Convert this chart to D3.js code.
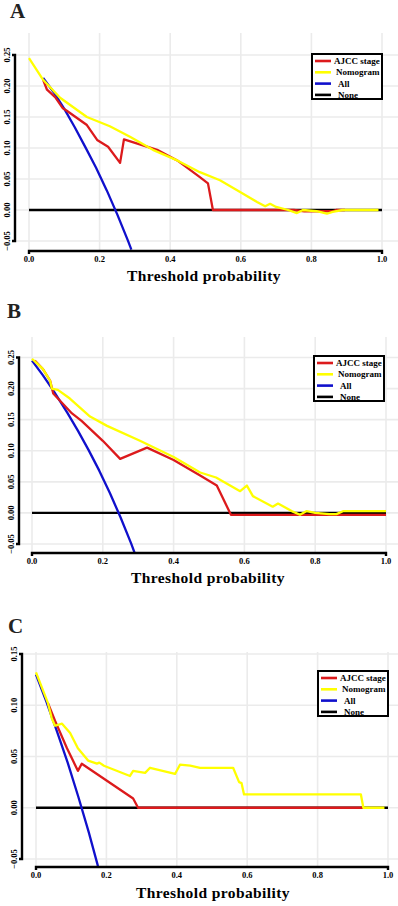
<!DOCTYPE html>
<html>
<head>
<meta charset="utf-8">
<script src="https://cdn.jsdelivr.net/npm/d3@7"></script>
<style>
  body { margin: 0; background: #fff; }
  svg { display: block; }
  text { font-family: "Liberation Serif", "Times New Roman", serif; font-weight: bold; }
</style>
</head>
<body>
<div id="chart"></div>
<script>
// decision curves, values: [threshold, net benefit]
var seriesNames = ["AJCC stage", "Nomogram", "All", "None"];
var xTicks = [0, 0.2, 0.4, 0.6, 0.8, 1.0];
var yTicksAB = [-0.05, 0, 0.05, 0.10, 0.15, 0.20, 0.25];
var yTicksC = [-0.05, 0, 0.05, 0.10, 0.15];

var ajccA = [[0.04,0.210],[0.051,0.194],[0.074,0.182],[0.096,0.164],[0.107,0.160],[0.164,0.137],[0.193,0.113],[0.224,0.102],[0.258,0.076],[0.269,0.114],[0.363,0.097],[0.42,0.080],[0.484,0.053],[0.507,0.043],[0.521,0],[0.75,0],[0.78,-0.002],[0.86,-0.002],[0.87,0],[0.895,0]];
var nomoA = [[0,0.245],[0.04,0.210],[0.088,0.181],[0.164,0.150],[0.229,0.135],[0.286,0.118],[0.351,0.097],[0.42,0.080],[0.484,0.061],[0.541,0.048],[0.598,0.029],[0.646,0.013],[0.669,0.006],[0.683,0.010],[0.70,0.005],[0.734,0],[0.759,-0.005],[0.776,0],[0.815,-0.002],[0.844,-0.006],[0.86,-0.003],[0.888,0],[0.99,0]];
var allA = [[0.04,0.213],[0.07,0.190],[0.10,0.163],[0.13,0.133],[0.16,0.101],[0.19,0.068],[0.22,0.032],[0.25,-0.007],[0.28,-0.049],[0.29,-0.064]];
var noneA = [[0,0],[1,0]];

var ajccB = [[0.008,0.245],[0.03,0.232],[0.051,0.213],[0.06,0.192],[0.113,0.160],[0.14,0.148],[0.20,0.116],[0.249,0.087],[0.325,0.105],[0.40,0.085],[0.475,0.060],[0.522,0.044],[0.562,-0.003],[1.0,-0.003]];
var nomoB = [[0,0.248],[0.03,0.232],[0.051,0.213],[0.056,0.200],[0.073,0.198],[0.107,0.184],[0.164,0.155],[0.212,0.140],[0.305,0.116],[0.40,0.090],[0.475,0.065],[0.52,0.057],[0.588,0.035],[0.607,0.044],[0.624,0.027],[0.68,0.010],[0.695,0.015],[0.737,0.002],[0.757,-0.003],[0.776,0.003],[0.80,0],[0.84,-0.002],[0.86,-0.002],[0.88,0.003],[1.0,0.003]];
var allB = [[0,0.245],[0.03,0.222],[0.06,0.197],[0.10,0.161],[0.13,0.132],[0.16,0.101],[0.19,0.068],[0.22,0.032],[0.25,-0.007],[0.28,-0.049],[0.291,-0.066]];
var noneB = [[0,0],[1,0]];

var ajccC = [[0.034,0.102],[0.054,0.085],[0.088,0.058],[0.105,0.046],[0.119,0.036],[0.13,0.043],[0.276,0.009],[0.29,0],[0.93,0]];
var nomoC = [[0,0.132],[0.034,0.102],[0.045,0.087],[0.054,0.080],[0.074,0.082],[0.097,0.073],[0.119,0.058],[0.148,0.046],[0.173,0.043],[0.18,0.044],[0.193,0.041],[0.267,0.031],[0.276,0.036],[0.31,0.034],[0.324,0.039],[0.395,0.033],[0.409,0.042],[0.438,0.041],[0.466,0.039],[0.56,0.039],[0.577,0.025],[0.584,0.024],[0.591,0.013],[0.923,0.013],[0.93,0],[0.99,0]];
var allC = [[0,0.130],[0.03,0.103],[0.06,0.074],[0.09,0.044],[0.12,0.011],[0.15,-0.024],[0.176,-0.057]];
var noneC = [[0,0],[1,0]];

var colors = { "AJCC stage": "#dc1a1c", "Nomogram": "#ffff00", "All": "#1010cc", "None": "#000000" };

var panels = [
  { label: "A", lx: 10, ly: 18, xr: [29, 382], yd: [-0.05, 0.25], yr: [241, 55], yTicks: yTicksAB,
    top: 33, axisX: 15, axisY: 251, legend: [312, 54], titleX: 204, titleY: 281,
    data: { "AJCC stage": ajccA, "Nomogram": nomoA, "All": allA, "None": noneA } },
  { label: "B", lx: 7, ly: 318, xr: [32, 386], yd: [-0.05, 0.25], yr: [544, 357.5], yTicks: yTicksAB,
    top: 337, axisX: 19, axisY: 553, legend: [314, 356], titleX: 208, titleY: 583,
    data: { "AJCC stage": ajccB, "Nomogram": nomoB, "All": allB, "None": noneB } },
  { label: "C", lx: 8, ly: 633, xr: [36, 388], yd: [-0.05, 0.15], yr: [859, 654], yTicks: yTicksC,
    top: 652, axisX: 22, axisY: 867, legend: [318, 671], titleX: 213, titleY: 898,
    data: { "AJCC stage": ajccC, "Nomogram": nomoC, "All": allC, "None": noneC } }
];

var width = 398, height = 906;
var svg = d3.select("#chart").append("svg")
  .attr("width", width).attr("height", height);

var drawOrder = ["None", "All", "AJCC stage", "Nomogram"];

panels.forEach(function(p, i) {
  var x = d3.scaleLinear().domain([0, 1]).range(p.xr);
  var y = d3.scaleLinear().domain(p.yd).range(p.yr);
  var g = svg.append("g");

  // grid
  g.selectAll(".hgrid").data(p.yTicks).enter().append("line")
    .attr("x1", p.axisX).attr("x2", width)
    .attr("y1", function(d) { return y(d) }).attr("y2", function(d) { return y(d) })
    .attr("stroke", "#ebebeb").attr("stroke-width", 1.6);
  g.selectAll(".vgrid").data(xTicks).enter().append("line")
    .attr("x1", function(d) { return x(d) }).attr("x2", function(d) { return x(d) })
    .attr("y1", p.top).attr("y2", p.axisY)
    .attr("stroke", "#ebebeb").attr("stroke-width", 1.6);

  // curves
  var clipId = "clip" + i;
  g.append("clipPath").attr("id", clipId).append("rect")
    .attr("x", p.axisX).attr("y", p.top).attr("width", width - p.axisX).attr("height", p.axisY - p.top);
  var line = d3.line().x(function(d) { return x(d[0]) }).y(function(d) { return y(d[1]) });
  drawOrder.forEach(function(name) {
    g.append("path")
      .datum(p.data[name])
      .attr("clip-path", "url(#" + clipId + ")")
      .attr("d", line)
      .attr("fill", "none")
      .attr("stroke", colors[name])
      .attr("stroke-width", 2.3)
      .attr("stroke-linejoin", "round");
  });

  // axes (capped at first/last break)
  var yMin = d3.min(p.yTicks), yMax = d3.max(p.yTicks);
  g.append("path")
    .attr("d", "M" + (p.axisX - 3) + "," + y(yMax) + "H" + p.axisX + "V" + y(yMin) + "H" + (p.axisX - 3))
    .attr("fill", "none").attr("stroke", "#000").attr("stroke-width", 2.4);
  g.append("path")
    .attr("d", "M" + x(0) + "," + (p.axisY + 3) + "V" + p.axisY + "H" + x(1) + "V" + (p.axisY + 3))
    .attr("fill", "none").attr("stroke", "#000").attr("stroke-width", 2.4);

  g.selectAll(".xt").data(xTicks).enter().append("text")
    .attr("x", function(d) { return x(d) })
    .attr("y", p.axisY + 11)
    .attr("text-anchor", "middle")
    .attr("font-size", "8.5px")
    .text(function(d) { return d3.format(".1f")(d) });

  g.selectAll(".yt").data(p.yTicks).enter().append("text")
    .attr("transform", function(d) { return "translate(" + (p.axisX - 5.5) + "," + y(d) + ") rotate(-90)" })
    .attr("text-anchor", "middle")
    .attr("font-size", "8.5px")
    .text(function(d) { return d3.format(".2f")(d) });

  g.append("text")
    .attr("x", p.titleX).attr("y", p.titleY)
    .attr("text-anchor", "middle")
    .attr("font-size", "15.5px")
    .attr("letter-spacing", "0.4px")
    .text("Threshold probability");

  g.append("text")
    .attr("x", p.lx).attr("y", p.ly)
    .attr("font-size", "21px")
    .attr("fill", "#222")
    .text(p.label);

  // legend
  var lg = g.append("g").attr("transform", "translate(" + p.legend[0] + "," + p.legend[1] + ")");
  lg.append("rect").attr("width", 70).attr("height", 45)
    .attr("fill", "#fff").attr("stroke", "#000").attr("stroke-width", 2);
  seriesNames.forEach(function(name, j) {
    var ly = 7 + j * 11.3;
    lg.append("line").attr("x1", 3).attr("x2", 19).attr("y1", ly).attr("y2", ly)
      .attr("stroke", colors[name]).attr("stroke-width", 2.6);
    lg.append("text").attr("x", j < 1 ? 22 : 24 + (j > 1 ? 2 : 0)).attr("y", ly + 3)
      .attr("font-size", "9px")
      .text(name);
  });
});
</script>
</body>
</html>
